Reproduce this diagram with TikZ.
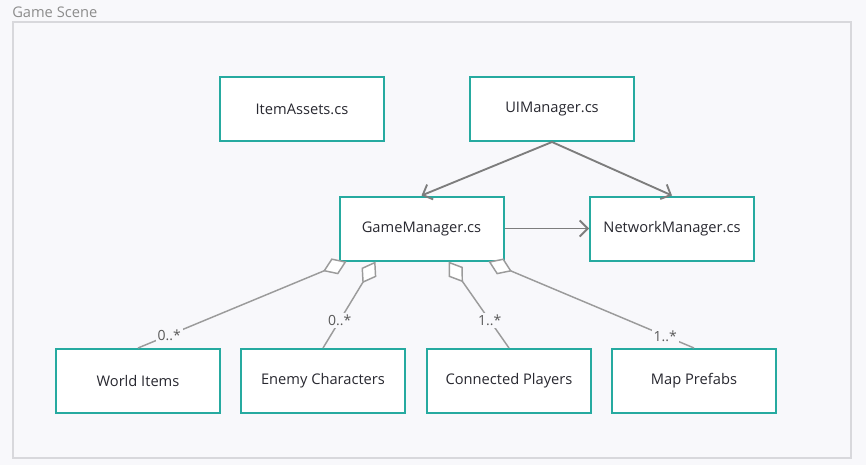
\documentclass[tikz,border=0pt]{standalone}
\usepackage{fontspec}
\setmainfont{Open Sans}
\usepackage{tikz}
\usetikzlibrary{arrows.meta}
\definecolor{teal1}{RGB}{38,170,160}
\definecolor{bgcol}{RGB}{248,248,251}
\definecolor{framecol}{RGB}{216,216,220}
\definecolor{arrowcol}{RGB}{125,125,125}
\definecolor{aggcol}{RGB}{155,155,155}
\definecolor{txtcol}{RGB}{40,40,48}
\tikzstyle{cls}=[draw=teal1,line width=1.5pt,fill=white,minimum width=123pt,minimum height=48pt,inner sep=0pt,font=\fontsize{11}{13}\selectfont,text=txtcol]

\begin{document}
\begin{tikzpicture}[
    x=0.75pt,y=-0.75pt,
    uses/.style={
        draw=arrowcol,
        line width=1.4pt,
        -{Straight Barb[length=6pt,width=12pt]}
    },
    agg/.style={
        draw=aggcol,
        line width=1.1pt,
        {Diamond[fill=white,length=19pt,width=13pt]}-
    },
    mult/.style={
        fill=bgcol,
        inner sep=1.5pt,
        text=black!65,
        font=\fontsize{10.5}{12}\selectfont
    }
    ]
    \fill[bgcol] (0,0) rectangle (866,465);
    \useasboundingbox (0,0) rectangle (866,465);
    \draw[framecol,line width=1.5pt] (13,22) rectangle (851,458);
    \node[anchor=west,inner sep=0pt,text=black!45,font=\fontsize{11}{13}\selectfont]
        (scene) at (12,12) {Game Scene};
    % top row
    \node[cls] (items) at (302,109) {ItemAssets.cs};
    \node[cls] (uimgr) at (552,109) {UIManager.cs};
    % middle row
    \node[cls] (gamemgr) at (421.5,228.5) {GameManager.cs};
    \node[cls] (netmgr) at (672,228.5) {NetworkManager.cs};
    % bottom row
    \node[cls] (world) at (138,381) {World Items};
    \node[cls] (enemy) at (323,381) {Enemy Characters};
    \node[cls] (players) at (509,381) {Connected Players};
    \node[cls] (prefabs) at (694,381) {Map Prefabs};
    % dependencies
    \draw[uses] (uimgr.south) -- (gamemgr.north);
    \draw[uses] (uimgr.south) -- (netmgr.north);
    \draw[uses] (gamemgr.east) -- (netmgr.west);
    % aggregations
    \draw[agg] ([xshift=6pt]gamemgr.south west) -- node[mult,pos=0.85] {0..*} (world.north);
    \draw[agg] ([xshift=27.75pt]gamemgr.south west) -- node[mult,pos=0.68] {0..*} (enemy.north);
    \draw[agg] ([xshift=82.5pt]gamemgr.south west) -- node[mult,pos=0.68] {1..*} (players.north);
    \draw[agg] ([xshift=112.5pt]gamemgr.south west) -- node[mult,pos=0.86] {1..*} (prefabs.north);
\end{tikzpicture}
\end{document}
